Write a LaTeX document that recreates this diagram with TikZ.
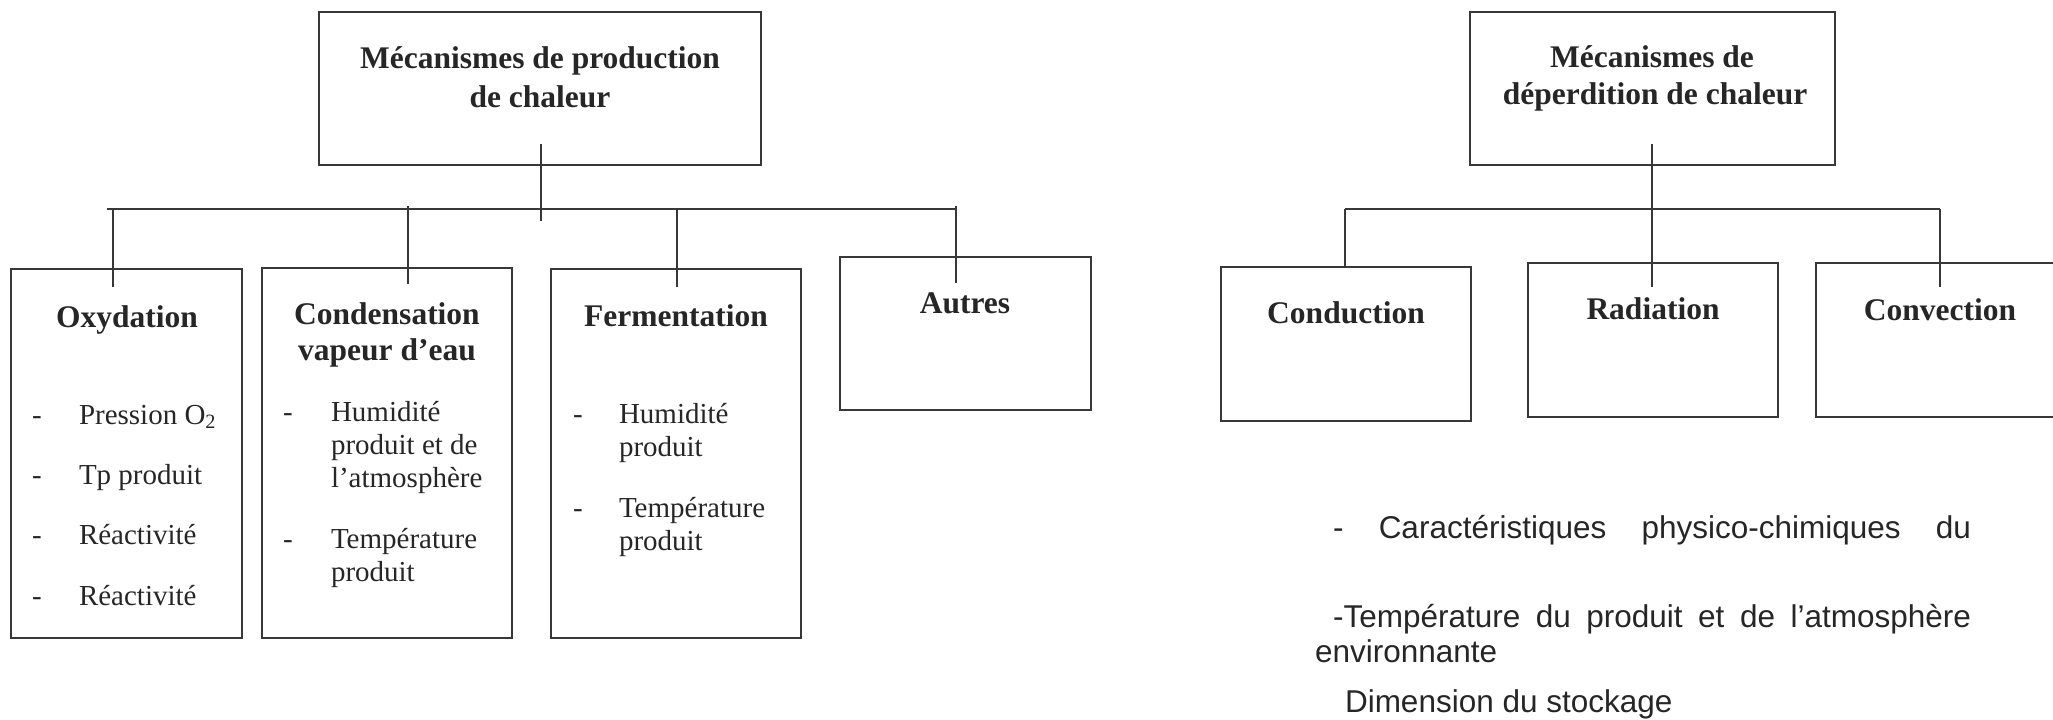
\documentclass[tikz,border=0pt]{standalone}
\usepackage{fontspec}
\setmainfont{Liberation Serif}
\newfontfamily\arialfont{Liberation Sans}
\definecolor{ink}{HTML}{262626}
\definecolor{linec}{HTML}{383838}
\begin{document}
\begin{tikzpicture}[x=1pt,y=-1pt,
  every node/.style={inner sep=0pt, outer sep=0pt, text=ink},
  box/.style={draw=linec, line width=2pt},
  conn/.style={draw=linec, line width=1.6pt},
  ttl/.style={font=\fontsize{31.5}{38}\selectfont\bfseries, anchor=base},
  itm/.style={font=\fontsize{29}{33}\selectfont, anchor=base west},
  sans/.style={font=\arialfont\fontsize{31.5}{35}\selectfont, anchor=base west}]
\useasboundingbox (0,0) rectangle (2053,720);
\clip (0,0) rectangle (2053,720);

% ---------- boxes, left diagram
\node[box, minimum width=442, minimum height=153] (prod) at (539.5,88.5) {};
\node[box, minimum width=231, minimum height=369] (ox) at (126.5,453.5) {};
\node[box, minimum width=250, minimum height=370] (co) at (387,453) {};
\node[box, minimum width=250, minimum height=369] (fe) at (676,453.5) {};
\node[box, minimum width=251, minimum height=153] (au) at (965.5,333.5) {};

% ---------- boxes, right diagram
\node[box, minimum width=365, minimum height=153] (dep) at (1652.5,88.5) {};
\node[box, minimum width=250, minimum height=154] (cd) at (1346,344) {};
\node[box, minimum width=250, minimum height=154] (ra) at (1653,340) {};
\node[box, minimum width=254, minimum height=154] (cv) at (1943,340) {};

% ---------- connectors, left
\coordinate (pT) at (541,144);
\coordinate (pB) at (541,221);
\coordinate (hL) at (107,209);
\coordinate (hR) at (956,209);
\coordinate (d1a) at (113,209);  \coordinate (d1b) at (113,287);
\coordinate (d2a) at (408,206);  \coordinate (d2b) at (408,284);
\coordinate (d3a) at (677,209);  \coordinate (d3b) at (677,287);
\coordinate (d4a) at (956,206);  \coordinate (d4b) at (956,283);
\draw[conn] (pT) -- (pB);
\draw[conn] (hL) -- (hR);
\draw[conn] (d1a) -- (d1b);
\draw[conn] (d2a) -- (d2b);
\draw[conn] (d3a) -- (d3b);
\draw[conn] (d4a) -- (d4b);

% ---------- connectors, right
\coordinate (qT) at (1652,144);
\coordinate (qB) at (1652,287);
\coordinate (gL) at (1345,209);
\coordinate (gR) at (1940,209);
\coordinate (gLb) at (1345,267);
\coordinate (gRb) at (1940,287);
\draw[conn] (qT) -- (qB);
\draw[conn] (gL) -- (gR);
\draw[conn] (gL) -- (gLb);
\draw[conn] (gR) -- (gRb);

% ---------- titles
\node[ttl] (prod1) at (540,68) {Mécanismes de production};
\node[ttl] (prod2) at (540,107) {de chaleur};
\node[ttl] (dep1) at (1652,67) {Mécanismes de};
\node[ttl] (dep2) at (1655,104) {déperdition de chaleur};
\node[ttl] (oxt) at (127,327) {Oxydation};
\node[ttl] (cot1) at (387,324) {Condensation};
\node[ttl] (cot2) at (387,360) {vapeur d’eau};
\node[ttl] (fet) at (676,326) {Fermentation};
\node[ttl] (aut) at (965,313) {Autres};
\node[ttl] (cdt) at (1346,323) {Conduction};
\node[ttl] (rat) at (1653,319) {Radiation};
\node[ttl] (cvt) at (1940,320) {Convection};

% ---------- Oxydation items
\node[itm] (oxd1) at (32,424) {-};
\node[itm] (oxi1) at (79,424) {Pression O\textsubscript{2}};
\node[itm] (oxd2) at (32,484) {-};
\node[itm] (oxi2) at (79,484) {Tp produit};
\node[itm] (oxd3) at (32,544) {-};
\node[itm] (oxi3) at (79,544) {Réactivité};
\node[itm] (oxd4) at (32,605) {-};
\node[itm] (oxi4) at (79,605) {Réactivité};

% ---------- Condensation items
\node[itm] (cod1) at (283,421) {-};
\node[itm] (coi1) at (331,421) {Humidité};
\node[itm] (coi1b) at (331,454) {produit et de};
\node[itm] (coi1c) at (331,487) {l’atmosphère};
\node[itm] (cod2) at (283,548) {-};
\node[itm] (coi2) at (331,548) {Température};
\node[itm] (coi2b) at (331,581) {produit};

% ---------- Fermentation items
\node[itm] (fed1) at (573,423) {-};
\node[itm] (fei1) at (619,423) {Humidité};
\node[itm] (fei1b) at (619,456) {produit};
\node[itm] (fed2) at (573,517) {-};
\node[itm] (fei2) at (619,517) {Température};
\node[itm] (fei2b) at (619,550) {produit};

% ---------- factors, right
\node[sans] (f1) at (1333,538) {\makebox[638pt][s]{- Caractéristiques physico-chimiques du}};
\node[sans] (f2) at (1333,627) {\makebox[638pt][s]{-Température du produit et de l’atmosphère}};
\node[sans] (f2b) at (1315,662) {environnante};
\node[sans] (f3) at (1345,712) {Dimension du stockage};
\end{tikzpicture}
\end{document}
